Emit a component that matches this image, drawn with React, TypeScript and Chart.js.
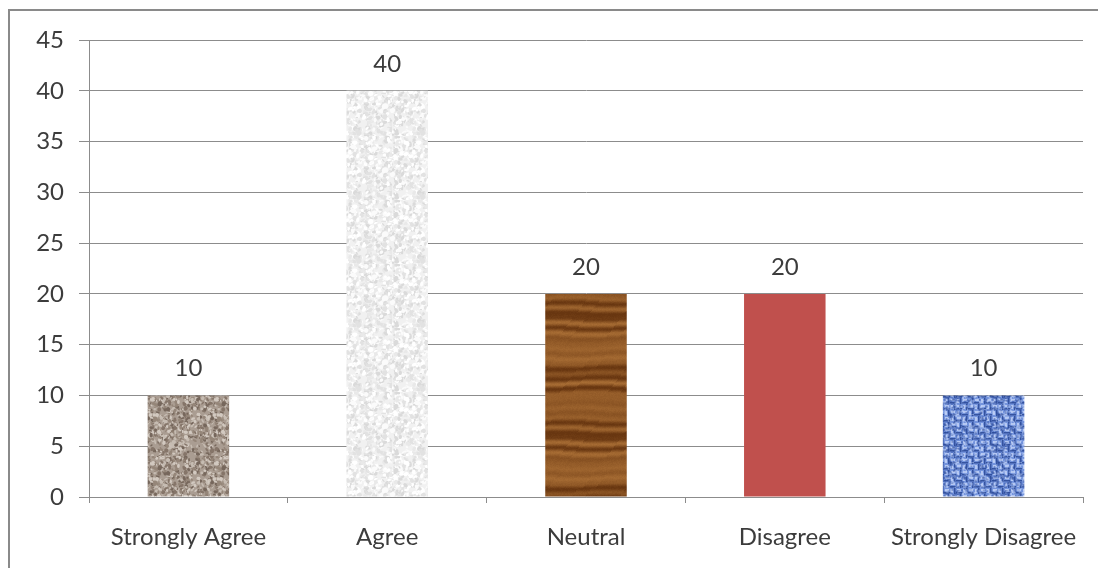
import React, { useEffect, useRef } from "react";
import { Chart, registerables } from "chart.js";

Chart.register(...registerables);

// Survey responses
const categories = ["Strongly Agree", "Agree", "Neutral", "Disagree", "Strongly Disagree"];
const responses = [10, 40, 20, 20, 10];
const yMin = 0;
const yMax = 45;
const yStep = 5;

const FONT = "Lato, 'Liberation Sans', sans-serif";
const TEXT = "#3c3c3c";
const GRID = "#8c8c8c";

// Small deterministic generator so every texture is drawn the same way each time
function seeded(seed: number) {
  let s = seed >>> 0;
  return () => {
    s = (s * 1664525 + 1013904223) >>> 0;
    return s / 4294967296;
  };
}

function tile(w: number, h: number, paint: (g: CanvasRenderingContext2D, w: number, h: number) => void) {
  const c = document.createElement("canvas");
  c.width = w;
  c.height = h;
  const g = c.getContext("2d")!;
  paint(g, w, h);
  return g.createPattern(c, "repeat")!;
}

function speckle(base: string, palette: string[], count: number, maxR: number, seed: number) {
  return (g: CanvasRenderingContext2D, w: number, h: number) => {
    const r = seeded(seed);
    g.fillStyle = base;
    g.fillRect(0, 0, w, h);
    for (let i = 0; i < count; i++) {
      g.fillStyle = palette[Math.floor(r() * palette.length)];
      g.beginPath();
      g.ellipse(r() * w, r() * h, 0.5 + r() * maxR, 0.5 + r() * maxR, r() * Math.PI, 0, Math.PI * 2);
      g.fill();
    }
  };
}

// Broad, nearly straight horizontal wood streaks
function woodGrain(g: CanvasRenderingContext2D, w: number, h: number) {
  const r = seeded(7);
  const knots = 24;
  const levels: number[] = [];
  for (let k = 0; k < knots; k++) levels.push(r() < 0.25 ? 0.85 + r() * 0.15 : 0.15 + r() * 0.45);
  const rows: number[] = [];
  for (let y = 0; y < h; y++) {
    const p = (y / h) * knots;
    const a = Math.floor(p);
    const f = p - a;
    const s = f * f * (3 - 2 * f);
    rows.push(levels[a % knots] * (1 - s) + levels[(a + 1) % knots] * s);
  }
  const img = g.createImageData(w, h);
  const light = [178, 118, 58];
  const dark = [104, 54, 16];
  for (let y = 0; y < h; y++) {
    for (let x = 0; x < w; x++) {
      const yy = (y + Math.round(Math.sin((x / w) * Math.PI * 2 + y * 0.05) * 1.2) + h) % h;
      const k = Math.min(1, Math.max(0, rows[yy] + (r() - 0.5) * 0.1));
      const i = (y * w + x) * 4;
      img.data[i] = light[0] + (dark[0] - light[0]) * k;
      img.data[i + 1] = light[1] + (dark[1] - light[1]) * k;
      img.data[i + 2] = light[2] + (dark[2] - light[2]) * k;
      img.data[i + 3] = 255;
    }
  }
  g.putImageData(img, 0, 0);
}

// Loose blue basket weave
function weave(g: CanvasRenderingContext2D, w: number, h: number) {
  const r = seeded(11);
  g.fillStyle = "#7393dc";
  g.fillRect(0, 0, w, h);
  const cell = 6;
  for (let y = 0; y < h; y += cell) {
    for (let x = 0; x < w; x += cell) {
      const horiz = ((x + y) / cell) % 2 === 0;
      g.fillStyle = "#b4c7f2";
      if (horiz) g.fillRect(x + 1, y + 1, cell - 2, 2);
      else g.fillRect(x + 1, y + 1, 2, cell - 2);
      g.fillStyle = "#35539f";
      if (horiz) g.fillRect(x, y + cell - 2, cell, 1.5);
      else g.fillRect(x + cell - 2, y, 1.5, cell);
    }
  }
  for (let i = 0; i < 400; i++) {
    g.fillStyle = r() < 0.5 ? "rgba(45,75,155,0.45)" : "rgba(195,212,250,0.4)";
    g.fillRect(r() * w, r() * h, 1 + r() * 2, 1 + r() * 2);
  }
}

const frame = {
  id: "frame",
  beforeDraw(chart: Chart) {
    const { ctx } = chart;
    ctx.save();
    ctx.strokeStyle = "#8a8a8a";
    ctx.lineWidth = 2;
    ctx.beginPath();
    ctx.moveTo(1, chart.height);
    ctx.lineTo(1, 2);
    ctx.lineTo(chart.width, 2);
    ctx.stroke();
    ctx.restore();
  },
};

const valueLabels = {
  id: "valueLabels",
  afterDatasetsDraw(chart: Chart) {
    const { ctx } = chart;
    const meta = chart.getDatasetMeta(0);
    ctx.save();
    ctx.font = `24px ${FONT}`;
    ctx.fillStyle = TEXT;
    ctx.textAlign = "center";
    ctx.textBaseline = "middle";
    meta.data.forEach((bar: any, i: number) => {
      ctx.fillText(String(responses[i]), bar.x, bar.y - 27);
    });
    ctx.restore();
  },
};

export default function App() {
  const ref = useRef<HTMLCanvasElement>(null);

  useEffect(() => {
    const fills = [
      tile(64, 64, speckle("#aa9d92", ["#857569", "#c6bcb2", "#958679", "#d2c9c0", "#76675c"], 650, 1.8, 3)),
      tile(64, 64, speckle("#f1f1f1", ["#e2e2e2", "#fbfbfb", "#dadada", "#e9e9e9", "#ffffff"], 600, 2.4, 5)),
      tile(96, 120, woodGrain),
      "#c0504d",
      tile(48, 48, weave),
    ];

    const chart = new Chart(ref.current!, {
      type: "bar",
      data: {
        labels: categories,
        datasets: [
          {
            data: responses,
            backgroundColor: fills as any,
            borderWidth: 0,
            barPercentage: 0.41,
            categoryPercentage: 1,
          },
        ],
      },
      options: {
        animation: false,
        responsive: false,
        layout: { padding: { top: 32, right: 15, left: 0, bottom: 0 } },
        plugins: { legend: { display: false }, tooltip: { enabled: false } },
        scales: {
          x: {
            afterFit: (s: any) => {
              s.height = 71;
            },
            grid: { display: true, drawOnChartArea: false, drawTicks: true, tickLength: 6, color: GRID, offset: true },
            border: { display: true, color: GRID },
            ticks: { color: TEXT, font: { family: FONT, size: 24 }, padding: 20, maxRotation: 0, autoSkip: false },
          },
          y: {
            min: yMin,
            max: yMax,
            afterFit: (s: any) => {
              s.width = 81;
            },
            grid: { color: GRID, tickLength: 10 },
            border: { display: true, color: GRID },
            ticks: { stepSize: yStep, color: TEXT, font: { family: FONT, size: 24 }, padding: 15 },
          },
        },
      },
      plugins: [frame, valueLabels],
    });
    return () => chart.destroy();
  }, []);

  return <canvas ref={ref} width={1090} height={560} style={{ display: "block" }} />;
}
